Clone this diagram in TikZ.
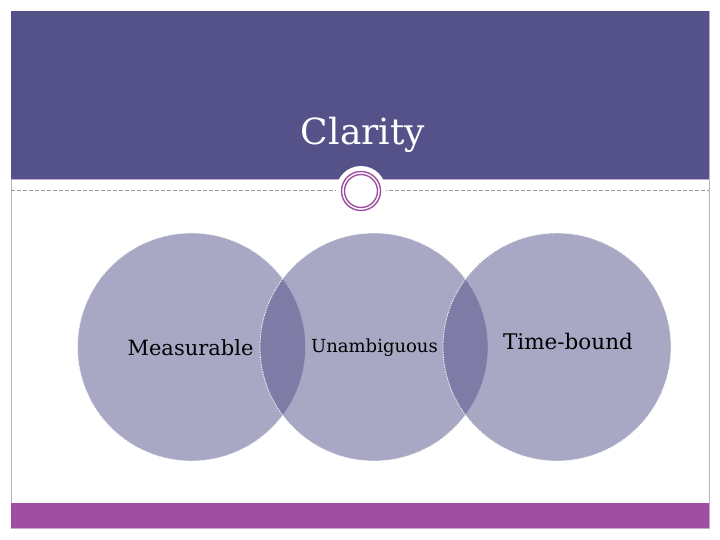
\documentclass[tikz,border=0pt]{standalone}
\usepackage{fontspec}
\setmainfont{DejaVu Serif}
\definecolor{band}{HTML}{55528A}
\definecolor{accent}{HTML}{9E4F9F}
\definecolor{edgecol}{HTML}{C9A9CF}
\definecolor{dashgray}{HTML}{9A9A9A}
\tikzset{
  venn/.style={fill=band, fill opacity=0.5, draw=white, draw opacity=0.9, line width=0.8pt, dash pattern=on 1.5pt off 1pt},
  lbl/.style={text=black, font=\fontsize{21}{25}\selectfont, inner sep=0pt}
}
\begin{document}
\begin{tikzpicture}[x=1pt,y=-1pt]
\useasboundingbox (0,0) rectangle (720,540);
\fill[white] (0,0) rectangle (720,540);
% frame
\draw[edgecol, line width=0.8pt] (11,11) rectangle (709,528);
\fill[band] (11,11) rectangle (709,179);
\draw[edgecol, line width=0.8pt] (11,179.5) -- (709,179.5);
\fill[accent] (11,503) rectangle (709,528);
% dashed separator
\coordinate (dl) at (11,191);
\coordinate (dr) at (709,191);
\draw[dashgray, line width=1pt, dash pattern=on 4pt off 2pt] (dl) -- (dr);
% ornament
\node[circle, fill=white, minimum size=50pt, inner sep=0pt] (orn) at (361,191) {};
\draw[accent, line width=1.4pt] (orn.center) circle[radius=19.5];
\draw[accent, line width=1.4pt] (orn.center) circle[radius=16.5];
% title
\node[text=white, font=\fontsize{36}{40}\selectfont, inner sep=0pt] (title) at (363,135) {Clarity};
% venn circles
\node[venn, circle, minimum size=228pt, inner sep=0pt] (c1) at (191.5,347) {};
\node[venn, circle, minimum size=228pt, inner sep=0pt] (c2) at (374,347) {};
\node[venn, circle, minimum size=228pt, inner sep=0pt] (c3) at (557,347) {};
\node[lbl] (t1) at (190.5,348) {Measurable};
\node[lbl, font=\fontsize{18}{21}\selectfont] (t2) at (374.5,348) {Unambiguous};
\node[lbl, font=\fontsize{21.5}{25}\selectfont] (t3) at (568,341) {Time-bound};
\end{tikzpicture}
\end{document}
